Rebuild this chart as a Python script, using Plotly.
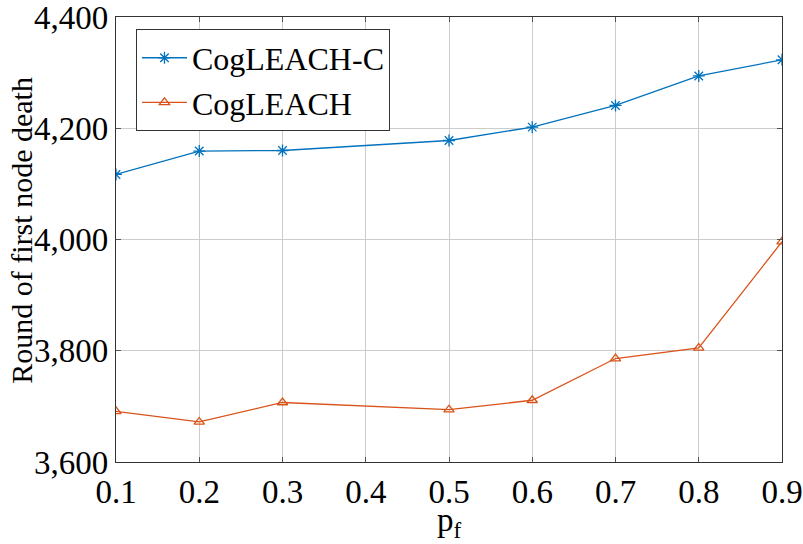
import plotly.graph_objects as go

pf = [0.1, 0.2, 0.3, 0.5, 0.6, 0.7, 0.8, 0.9]
cogleach_c = [4117, 4159, 4160, 4178, 4202, 4241, 4294, 4323]
cogleach = [3691, 3672, 3707, 3694, 3711, 3786, 3805, 3996]
x_ticks = [0.1, 0.2, 0.3, 0.4, 0.5, 0.6, 0.7, 0.8, 0.9]
y_ticks = [3600, 3800, 4000, 4200, 4400]

FONT = "Liberation Serif"
TF = dict(family=FONT, size=33, color="black")
LF = dict(family=FONT, size=32, color="black")
AF = dict(family=FONT, size=30, color="black")
fig = go.Figure()
fig.add_trace(go.Scatter(
    x=pf, y=cogleach_c, mode="lines+markers", name="CogLEACH-C",
    line=dict(color="#0072BD", width=1.3),
    marker=dict(symbol="asterisk-open", size=10, color="#0072BD", line=dict(color="#0072BD", width=1.3)),
))
fig.add_trace(go.Scatter(
    x=pf, y=cogleach, mode="lines+markers", name="CogLEACH",
    line=dict(color="#D95319", width=1.3),
    marker=dict(symbol="triangle-up-open", size=9, color="#D95319", line=dict(color="#D95319", width=1.3)),
))

fig.update_layout(
    width=803, height=544,
    margin=dict(l=116, r=21, t=17, b=82),
    paper_bgcolor="white", plot_bgcolor="white",
    font=LF,
    showlegend=True,
    legend=dict(
        x=0.03, y=0.972, xanchor="left", yanchor="top",
        bgcolor="white", bordercolor="#333333", borderwidth=1,
        font=LF, tracegroupgap=0, itemwidth=45,
    ),
    xaxis=dict(
        range=[0.1, 0.9], tickvals=x_ticks, ticktext=[str(v) for v in x_ticks],
        tickfont=TF, automargin=False, ticklabeloverflow="allow",
        showgrid=True, gridcolor="#cccccc", gridwidth=1,
        showline=True, linecolor="#333333", linewidth=1.2, mirror="ticks",
        ticks="inside", ticklen=5, tickcolor="#555555",
        zeroline=False,
    ),
    yaxis=dict(
        range=[3600, 4400], tickvals=y_ticks, ticktext=[f"{v:,}" for v in y_ticks],
        tickfont=TF, automargin=False, ticklabeloverflow="allow",
        showgrid=True, gridcolor="#cccccc", gridwidth=1,
        showline=True, linecolor="#333333", linewidth=1.2, mirror="ticks",
        ticks="inside", ticklen=5, tickcolor="#555555",
        zeroline=False,
    ),
    annotations=[
        dict(
            text="Round of first node death", textangle=-90,
            xref="paper", yref="paper", x=-0.141, y=0.52,
            xanchor="center", yanchor="middle", showarrow=False,
            font=AF,
        ),
        dict(
            text="p<sub>f</sub>",
            xref="paper", yref="paper", x=0.5, y=-0.135,
            xanchor="center", yanchor="middle", showarrow=False,
            font=TF,
        ),
    ],
)

fig.write_html(
    "out.html",
    config={"displayModeBar": False},
    post_script="document.body.style.margin='0';document.body.style.overflow='hidden';",
)
